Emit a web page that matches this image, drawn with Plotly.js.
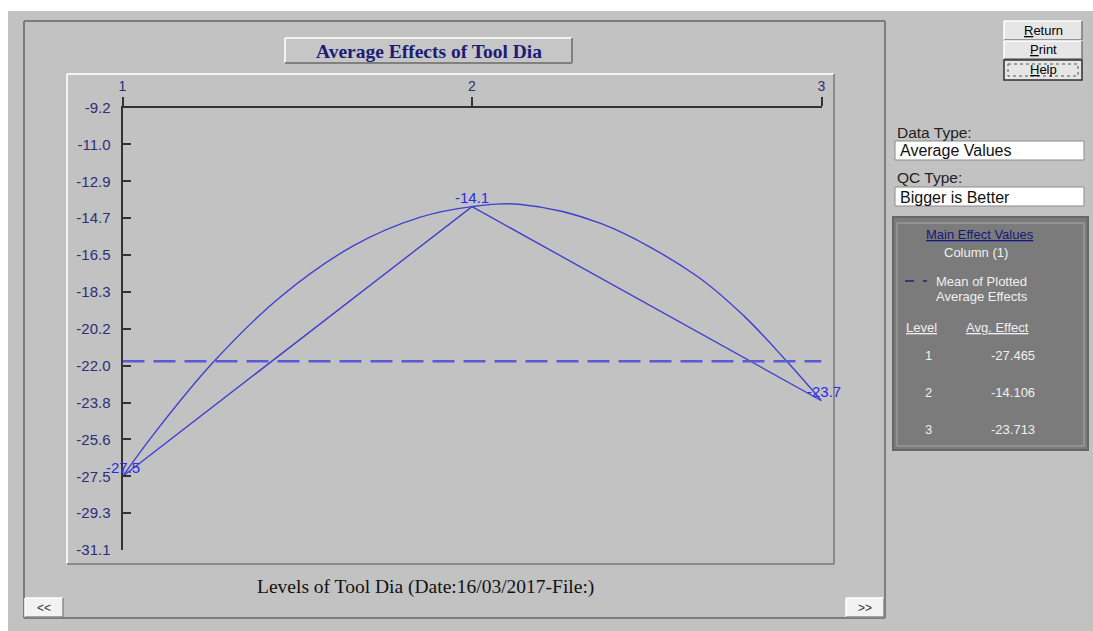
<!DOCTYPE html>
<html><head><meta charset="utf-8">
<script src="https://cdn.plot.ly/plotly-3.0.1.min.js"></script>
<style>html,body{margin:0;padding:0;background:#fff;}#chart{width:1093px;height:631px;}</style>
</head><body><div id="chart"></div>
<script>
// ---- data ----
const levels = [1, 2, 3];
const levelLabels = ['1', '2', '3'];
const avgEffects = [-27.465, -14.106, -23.713];
// smooth fitted curve
const curveX = [1, 1.09, 1.26, 1.45, 1.66, 1.85, 2, 2.14, 2.37, 2.64, 2.78, 2.9, 3];
const curveY = [-27.465, -25.35, -21.8, -18.6, -16.05, -14.64, -14.106, -14.0, -14.95, -17.5, -19.55, -21.75, -23.713];
const yTickVals = [-9.2, -11.025, -12.85, -14.675, -16.5, -18.325, -20.15, -21.975, -23.8, -25.625, -27.45, -29.275, -31.1];
const yTickText = ['-9.2', '-11.0', '-12.9', '-14.7', '-16.5', '-18.3', '-20.2', '-22.0', '-23.8', '-25.6', '-27.5', '-29.3', '-31.1'];
const chartTitle = 'Average Effects of Tool Dia';
const xTitle = 'Levels of Tool Dia (Date:16/03/2017-File:)';
const dataType = 'Average Values';
const qcType = 'Bigger is Better';
const columnLabel = 'Column (1)';

// ---- helpers ----
const W = 1093, H = 631;
const px = x => x / W;
const py = y => 1 - y / H;
const shapes = [];
const ann = [];
function line(x0, y0, x1, y1, color, width, dash) {
  shapes.push({type: 'line', xref: 'paper', yref: 'paper', x0: px(x0), y0: py(y0), x1: px(x1), y1: py(y1),
    line: {color: color, width: width || 1, dash: dash || 'solid'}, layer: 'below'});
}
function rect(x0, y0, x1, y1, fill, lineColor, lw, dash) {
  shapes.push({type: 'rect', xref: 'paper', yref: 'paper', x0: px(x0), y0: py(y0), x1: px(x1), y1: py(y1),
    fillcolor: fill || 'rgba(0,0,0,0)', line: {color: lineColor || 'rgba(0,0,0,0)', width: lineColor ? (lw || 1) : 0, dash: dash || 'solid'}, layer: 'below'});
}
function bevel(x0, y0, x1, y1, fill, light, dark, w) {
  if (fill) rect(x0, y0, x1, y1, fill);
  w = w || 1.5;
  line(x0, y0, x1, y0, light, w);
  line(x0, y0, x0, y1, light, w);
  line(x1, y0, x1, y1, dark, w);
  line(x0, y1, x1, y1, dark, w);
}
function text(x, y, t, opts) {
  opts = opts || {};
  ann.push({xref: 'paper', yref: 'paper', x: px(x), y: py(y), text: t, showarrow: false,
    xanchor: opts.xa || 'center', yanchor: 'middle',
    font: {family: opts.family || 'Liberation Sans, Arial, sans-serif', size: opts.size || 13, color: opts.color || '#000'}});
}

// ---- window chrome ----
rect(8, 11, 1093, 631, '#c2c2c2');
// outer chart frame
line(24, 21, 885, 21, '#7c7c7c', 2);
line(24, 21, 24, 618, '#7c7c7c', 2);
line(885, 21, 885, 618, '#7c7c7c', 2);
line(24, 618, 885, 618, '#7c7c7c', 2);
// inner plot panel
bevel(67, 74, 834, 564, null, '#f4f4f4', '#8a8a8a', 2);
// title box
bevel(285, 38, 572, 63, '#c6c6c6', '#f4f4f4', '#808080', 2);
text(429, 51, '<b>' + chartTitle + '</b>', {family: 'Liberation Serif, Times New Roman, serif', size: 19.5, color: '#1c1c74'});
// x title
text(425, 587, xTitle, {family: 'Liberation Serif, Times New Roman, serif', size: 19.5, color: '#111'});
// scroll buttons
bevel(25, 598, 63, 617, '#f2f2f2', '#ffffff', '#8a8a8a', 1.5);
text(44, 607.5, '<<', {size: 12, color: '#333'});
bevel(846, 598, 884, 617, '#f2f2f2', '#ffffff', '#8a8a8a', 1.5);
text(865, 607.5, '>>', {size: 12, color: '#333'});

// right side buttons
bevel(1004, 21, 1082, 40, '#e6e6e6', '#ffffff', '#7a7a7a', 1.5);
text(1043, 30.5, '<u>R</u>eturn', {size: 13});
bevel(1004, 41, 1082, 59, '#e6e6e6', '#ffffff', '#7a7a7a', 1.5);
text(1043, 50, '<u>P</u>rint', {size: 13});
rect(1004, 60, 1082, 80, '#e6e6e6', '#303030', 1.5);
rect(1008, 64, 1078, 76, null, '#555555', 1, 'dot');
text(1043, 70, '<u>H</u>elp', {size: 13});

// data type / qc type
text(895, 132, 'Data Type:', {xa: 'left', size: 15.5, color: '#222'});
rect(895, 141, 1084, 160, '#ffffff', '#8a8a8a', 1);
text(898, 151, dataType, {xa: 'left', size: 16, color: '#111'});
text(895, 177, 'QC Type:', {xa: 'left', size: 15.5, color: '#222'});
rect(895, 187, 1084, 206, '#ffffff', '#8a8a8a', 1);
text(898, 197, qcType, {xa: 'left', size: 16, color: '#111'});

// main effect values panel
rect(893, 217, 1088, 450, '#7b7b7b', '#666666', 2);
rect(897, 223, 1084, 446, null, '#a9a9a9', 1);
text(980, 234, '<u>Main Effect Values</u>', {size: 13, color: '#16167e'});
text(976, 253, columnLabel, {size: 13, color: '#f0f0f0'});
line(905, 281, 927, 281, '#20207a', 1.5, 'dash');
text(934, 281, 'Mean of Plotted', {xa: 'left', size: 13, color: '#f0f0f0'});
text(934, 296, 'Average Effects', {xa: 'left', size: 13, color: '#f0f0f0'});
text(921, 327, '<u>Level</u>', {size: 13, color: '#f0f0f0'});
text(997, 327, '<u>Avg. Effect</u>', {size: 13, color: '#f0f0f0'});
const rowY = [355, 392, 429];
levels.forEach((lv, i) => {
  text(928, rowY[i], levelLabels[i], {size: 13, color: '#f0f0f0'});
  text(1037, rowY[i], avgEffects[i].toFixed(3), {xa: 'right', size: 13, color: '#f0f0f0'});
});

// ---- chart data labels ----
levels.forEach((lv, i) => {
  ann.push({xref: 'x', yref: 'y', x: lv, y: avgEffects[i], text: avgEffects[i].toFixed(1), showarrow: false,
    xanchor: 'center', yanchor: 'middle', yshift: 9, xshift: i === 2 ? 2 : 0,
    font: {family: 'Liberation Sans, Arial, sans-serif', size: 15, color: '#2a2aee'}});
});

const meanVal = avgEffects.reduce((a, b) => a + b, 0) / avgEffects.length;
const lineColor = '#4040d0';

const traces = [
  {type: 'scatter', mode: 'lines', x: curveX, y: curveY, line: {color: lineColor, width: 1.4, shape: 'spline', smoothing: 1}, hoverinfo: 'skip'},
  {type: 'scatter', mode: 'lines', x: levels, y: avgEffects, line: {color: lineColor, width: 1.4}, hoverinfo: 'skip'},
  {type: 'scatter', mode: 'lines', x: [levels[0], levels[levels.length - 1]], y: [meanVal, meanVal],
    line: {color: '#5a5ad8', width: 2.5, dash: '22px,9px'}, hoverinfo: 'skip'}
];

const layout = {
  width: W, height: H,
  margin: {l: 0, r: 0, t: 0, b: 0},
  paper_bgcolor: '#ffffff',
  plot_bgcolor: 'rgba(0,0,0,0)',
  showlegend: false,
  xaxis: {
    domain: [px(122.5), px(821.5)], range: [1, 3], side: 'top',
    tickvals: levels, ticktext: levelLabels,
    ticks: 'outside', ticklen: 9, tickwidth: 2, tickcolor: '#333',
    showline: true, linecolor: '#333', linewidth: 2,
    showgrid: false, zeroline: false, fixedrange: true,
    tickfont: {family: 'Liberation Sans, Arial, sans-serif', size: 14, color: '#2e2e78'}
  },
  yaxis: {
    domain: [py(550), py(107.5)], range: [-31.1, -9.2],
    tickvals: yTickVals, ticktext: yTickText,
    ticks: 'inside', ticklen: 8, tickwidth: 2, tickcolor: '#333',
    showline: true, linecolor: '#333', linewidth: 2,
    showgrid: false, zeroline: false, fixedrange: true,
    ticklabelstandoff: 7,
    tickfont: {family: 'Liberation Sans, Arial, sans-serif', size: 15, color: '#2e2e78'}
  },
  shapes: shapes,
  annotations: ann
};

Plotly.newPlot('chart', traces, layout, {staticPlot: true, displayModeBar: false});
</script>
</body></html>
